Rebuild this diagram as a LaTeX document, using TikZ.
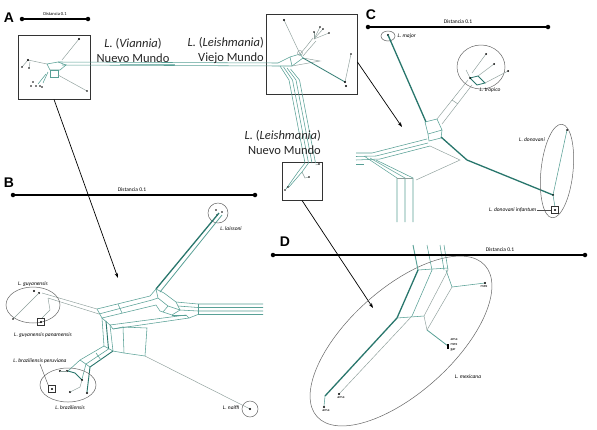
\documentclass[tikz,border=0pt]{standalone}
\usepackage{fontspec}
\setmainfont{Carlito}
\newfontfamily\letterfont{Liberation Sans}
\usetikzlibrary{arrows.meta}
\definecolor{netc}{RGB}{88,160,150}
\definecolor{netd}{RGB}{40,118,108}
\definecolor{netg}{RGB}{140,158,154}
\begin{document}
\begin{tikzpicture}[x=1pt,y=-1pt,
  bar/.style={line width=1.1pt,black},
  bdot/.style={circle,fill=black,inner sep=0pt,minimum size=4.5pt},
  sdot/.style={circle,fill=black,inner sep=0pt,minimum size=2.2pt},
  frame/.style={draw=black!80,line width=0.9pt,inner sep=0pt},
  arr/.style={-{Stealth[length=5pt,width=3.5pt]},line width=0.7pt},
  net/.style={draw=netc,line width=0.55pt},
  thk/.style={draw=netd,line width=1.3pt},
  gry/.style={draw=netg,line width=0.45pt},
  oval/.style={draw=black!60,line width=0.5pt},
  lab/.style={font=\fontsize{5.5}{6}\selectfont\itshape,inner sep=0.5pt},
  tiny/.style={font=\fontsize{4}{4.5}\selectfont,inner sep=0.3pt},
  dist/.style={font=\fontsize{5.5}{6}\selectfont,inner sep=0.5pt},
  letter/.style={font=\letterfont\bfseries\fontsize{14}{14}\selectfont,inner sep=0pt},
  big/.style={font=\fontsize{12.5}{15}\selectfont,inner sep=0pt,text=black!85}
]
\useasboundingbox (0,0) rectangle (597,429);
\fill[white] (0,0) rectangle (597,429);

% ================= PANEL A =================
\node[letter] (lA) at (9,18) {A};
\node[bdot] (sa1) at (22,19) {};
\node[bdot] (sa2) at (88,19) {};
\draw[bar] (sa1) -- (sa2);
\node[dist,font=\fontsize{4.5}{5}\selectfont] (da) at (55,14) {Distancia 0.1};

\node[frame,minimum width=72pt,minimum height=64pt] (boxA) at (54,67) {};
\node[frame,minimum width=91pt,minimum height=80pt] (boxW) at (311.5,54) {};
\node[frame,minimum width=40pt,minimum height=38pt] (boxD) at (302,181) {};

% mini network in box A
\draw[gry] (79,39)--(62,60);
\node[sdot] at (79,39) {};
\draw[gry] (28,60)--(47,64);
\draw[gry] (28,60)--(22,67);
\draw[gry] (30,62)--(29,68);
\node[sdot] at (28,60) {};
\node[sdot,minimum size=1.6pt] at (22,67) {};
\node[sdot,minimum size=1.6pt] at (29,68) {};
\draw[net] (47,64)--(58,62)--(66,65)--(60,70)--(50,70)--cycle;
\draw[net] (50,70)--(58,70)--(58,77)--(50,77)--cycle;
\draw[net] (48,72)--(43,83);
\draw[net] (46,74)--(38,84);
\foreach \p in {(33,82),(36,86),(40,86),(42,87),(31,86)} \node[sdot,minimum size=1.6pt] at \p {};
\draw[gry] (58,75)--(87,91);
\node[sdot,minimum size=1.6pt] at (87,91) {};

% long band to Old World
\draw[net] (58,62)--(278,63);
\draw[net] (62,65)--(278,66);
\draw[netc!70,line width=1.2pt] (120,64.3)--(175,64.3);

% Old world network
\draw[net] (278,63)--(290,57)--(300,54);
\draw[net] (278,66)--(292,66)--(303,58);
\draw[net] (290,57)--(292,66);
\draw[net] (300,54)--(303,58);
\draw[gry] (292,66)--(320,61)--(303,58);
\draw[gry] (300,54)--(284,20);
\node[sdot] at (284,20) {};
\draw[gry] (300,53) circle (2.5pt);
\draw[gry] (300,54)--(306,47)--(313,38);
\draw[gry] (303,56)--(309,49)--(316,41);
\foreach \p in {(314,32),(320,27),(323,29),(329,33)} {\draw[gry] (314,39)--\p; \node[sdot,minimum size=1.8pt] at \p {};}
\draw[netd,line width=0.8pt] (303,58)--(345,82);
\draw[gry] (345,82)--(351,54);
\node[sdot] at (345,82) {};
\node[sdot] at (346,86) {};
\node[sdot,minimum size=1.8pt] at (351,54) {};

% band down to box D
\foreach \i in {0,1,2,3} {
  \draw[net] (280+3.5*\i,66+\i)--(289+3.5*\i,80)--(305+3.5*\i,163);
}

% box D interior
\draw[net] (305,163)--(298,172)--(286,189);
\draw[net] (308.5,163)--(302,172)--(289,187);
\draw[gry] (302,172)--(305,178)--(309,177);
\draw[gry] (315.5,165)--(319,164);
\node[sdot,minimum size=1.8pt] at (309,177) {};
\node[sdot,minimum size=1.8pt] at (319,164) {};
\node[sdot,minimum size=1.8pt] at (285,190) {};
\node[sdot,minimum size=1.8pt] at (288,187) {};

% texts
\node[big,align=center] (tv) at (133,50) {\textit{L.} (\textit{Viannia})\\Nuevo Mundo};
\node[big,align=right,anchor=east] (tl) at (264,50) {\textit{L.} (\textit{Leishmania})\\Viejo Mundo};
\node[big,align=right,anchor=east] (tn) at (321,142) {\textit{L.} (\textit{Leishmania})\\Nuevo Mundo};

% arrows
\coordinate (tipB) at (118,278);
\coordinate (tipC) at (402,127);
\coordinate (tipD) at (373,308);
\draw[arr] (boxA.south) -- (tipB);
\draw[arr] ([yshift=-8pt]boxW.east) -- (tipC);
\draw[arr] (boxD.south) -- (tipD);

% ================= PANEL B =================
\node[letter] (lB) at (9,183) {B};
\node[bdot] (sb1) at (13,195) {};
\node[bdot] (sb2) at (255,195) {};
\draw[bar] (sb1) -- (sb2);
\node[dist] (db) at (132,190) {Distancia 0.1};

\draw[oval] (218,213) circle (10pt);
\node[lab] (lai) at (231,229) {L. laissoni};
\foreach \p in {(216,210),(222,212),(217,215)} \node[sdot,minimum size=1.8pt] at \p {};
\draw[thk] (219,213) -- (156,289);
\draw[net,line width=0.8pt] (222,215) -- (160,292);

% junction
\draw[net] (150,296)--(156,289)--(164,293)--(176,302)--(180,310)--(172,315)--(160,311)--(156,305);
\draw[net] (156,289)--(158,298)--(168,306)--(180,310);
\draw[net] (158,298)--(152,300);
\draw[net] (168,306)--(163,312);
% right lines
\draw[net] (176,302)--(198,304)--(263,304);
\draw[net] (178,306)--(198,307.5)--(263,307.5);
\draw[net] (180,310)--(198,311)--(263,311);
\draw[net] (189,318)--(198,314.5)--(263,314.5);
\draw[net] (198,304)--(198,314.5);
% upper band
\draw[net] (97,309)--(150,296);
\draw[net] (99,314)--(152,300);
\draw[net] (102,318)--(156,305);
\draw[net] (97,309)--(102,318);
\draw[net] (118,304)--(122,313);
% lower band
\draw[net] (110,325)--(186,315);
\draw[net] (113,329)--(189,318);
\draw[net] (110,325)--(113,329);
\draw[net] (172,315)--(186,315);
\draw[net] (186,315)--(189,318);
% left branch
\draw[gry] (42,293)--(97,309);
\draw[gry] (48,298)--(99,314);
% verticals
\draw[net] (102,318)--(104,346);
\draw[thk,line width=0.9pt] (106,321)--(108.5,349);
\draw[net] (110,325)--(113,351);
\draw[net] (102,318)--(110,325);
\draw[net] (104,346)--(113,351);
% square
\draw[net] (123,327)--(147,328)--(145,356)--(124,353)--cycle;
\draw[net] (113,329)--(123,327);
\draw[net] (113,351)--(124,353);
\draw[gry] (145,356)--(250,409);
% lower-left band
\draw[net] (104,346)--(80,360)--(68,371);
\draw[net] (108.5,349)--(86,364)--(82,379);
\draw[thk,line width=0.9pt] (113,351)--(90,367)--(87,392);
\draw[net] (80,360)--(90,367);
\draw[net] (96,353)--(101,360);
\draw[thk,line width=0.9pt] (68,371)--(75,373)--(82,380);

% naiffi
\draw[oval] (250,409) circle (8pt);
\node[sdot] at (250,409) {};
\node[lab,anchor=east] (nai) at (240,408) {L. naiffi};

% guyanensis
\draw[oval] (33,305) ellipse [x radius=27pt,y radius=18pt];
\node[lab] (guy) at (33,284) {L. guyanensis};
\node[sdot] at (34,291) {};
\node[sdot] at (39,293) {};
\draw[gry] (39,293)--(13,319);
\node[sdot,minimum size=1.8pt] at (13,319) {};
\draw[gry] (48,298)--(50,310)--(42,318);
\node[draw=black!80,line width=0.5pt,minimum size=7pt,inner sep=0pt] (sqG) at (41,322) {};
\node[sdot] at (41,322) {};
\node[lab] (guyp) at (43,335) {L. guyanensis panamensis};

% braziliensis
\draw[oval] (68,385) ellipse [x radius=28pt,y radius=17pt];
\node[lab] (bra) at (70,408) {L. braziliensis};
\node[lab] (brap) at (40,361) {L. braziliensis peruviana};
\foreach \p in {(60,371),(67,371),(82,380),(70,392),(87,393)} \node[sdot] at \p {};
\draw[gry] (60,371)--(67,371);
\draw[gry] (70,392)--(80,387)--(82,380);
\node[draw=black!80,line width=0.5pt,minimum size=7pt,inner sep=0pt] (sqB) at (52,389) {};
\node[sdot] at (52,389) {};
\draw[black!70,line width=0.4pt] (brap.south) -- (sqB.north west);

% ================= PANEL C =================
\node[letter] (lC) at (371,15) {C};
\node[bdot] (sc1) at (368,27) {};
\node[bdot] (sc2) at (548,27) {};
\draw[bar] (sc1) -- (sc2);
\node[dist] (dc) at (458,22) {Distancia 0.1};

\draw[oval] (388,36) ellipse [x radius=7pt,y radius=5pt];
\node[sdot] at (388,35) {};
\node[lab,anchor=west] (maj) at (397,36) {L. major};
\draw[thk] (388,35) -- (426,122);

\draw[net] (425,122)--(437,119)--(442,130)--(428,134)--cycle;
\draw[net] (428,134)--(429,141)--(441,138)--(442,130);
\draw[gry] (437,119)--(468,80);
\draw[gry] (442,124)--(472,85);
\draw[gry] (452,100)--(458,104);

\draw[oval] (481,67) ellipse [x radius=24pt,y radius=22pt];
\node[lab] (tro) at (490,90) {L. tropico};
\draw[netd,line width=0.8pt] (470,78)--(478,76)--(485,83)--(477,85)--cycle;
\draw[gry] (472,73)--(486,54);
\draw[gry] (478,76)--(494,64);
\draw[gry] (485,83)--(508,71);
\draw[gry] (470,78)--(466,70);
\foreach \p in {(486,54),(494,64),(508,71),(470,78)} \node[sdot,minimum size=2pt] at \p {};

\draw[thk] (441,137)--(450,145)--(467,160)--(553,195);
\draw[oval,rotate around={-6:(557,171)}] (557,171) ellipse [x radius=16pt,y radius=47pt];
\node[lab] (don) at (532,140) {L. donovani};
\draw[net] (553,195)--(567,130);
\node[sdot,minimum size=2pt] at (567,130) {};
\node[sdot,minimum size=2pt] at (553,195) {};
\draw[net] (553,195)--(555,207);
\node[draw=black!80,line width=0.5pt,minimum size=7pt,inner sep=0pt] (sqD) at (555,210) {};
\node[sdot] at (555,210) {};
\node[lab,anchor=east] (dinf) at (537,210) {L. donovani infantum};
\draw[black!70,line width=0.4pt] (dinf.east) -- (sqD.west);

% left bands C
\draw[net] (427,139)--(372,153)--(356,153);
\draw[net] (428,143)--(376,156)--(356,156.5);
\draw[net] (430,146)--(380,159)--(356,160);
\draw[net] (356,164)--(364,164);
\draw[net] (364,156)--(397,178)--(397,222);
\draw[net] (370,158)--(405,178)--(405,222);
\draw[net] (376,160)--(413,178)--(413,222);
\draw[gry] (430,146)--(460,160)--(416,180);
\draw[gry] (397,178)--(413,178);

% ================= PANEL D =================
\node[letter] (lD) at (285,242) {D};
\node[bdot] (sd1) at (273,255) {};
\node[bdot] (sd2) at (585,255) {};
\node[dist] (dd) at (500,250) {Distancia 0.1};

\draw[oval,rotate around={42:(401,341)}] (401,341) ellipse [x radius=113pt,y radius=52pt];
\node[lab] (mexl) at (468,377) {L. mexicana};

\draw[net,line width=0.9pt] (413,245)--(418,270);
\draw[net] (427,245)--(432,270);
\draw[net] (440,245)--(444,270);
\draw[net] (444,245)--(448,270);
\draw[bar] (sd1) -- (sd2);
\draw[net] (418,270)--(448,268);
\draw[thk] (418,270)--(397,318)--(325,396);
\draw[net] (432,270)--(412,316);
\draw[gry] (412,316)--(339,394);
\draw[net] (397,318)--(424,316);
\draw[net] (446,270)--(452,287)--(485,283);
\draw[gry] (448,270)--(424,316)--(427,330);
\draw[net,line width=0.8pt] (427,330)--(448,346);
\draw[gry] (452,287)--(427,330);
\draw[net] (325,396)--(324,406);
\node[sdot,minimum size=2.2pt] at (485,283) {};
\node[tiny,anchor=north] (mex1) at (484,285) {mex};
\node[fill=black,inner sep=0pt,minimum width=2.5pt,minimum height=5pt] (grp) at (448,346) {};
\node[tiny,anchor=west] (ama1) at (450,340) {ama};
\node[tiny,anchor=west] (mex2) at (450,345) {mex};
\node[tiny,anchor=west] (gar) at (450,350) {gar};
\node[sdot,minimum size=2.2pt] at (324,407) {};
\node[tiny,anchor=north] (bma) at (326,409) {ama};
\node[sdot,minimum size=2.2pt] at (339,394) {};
\node[tiny,anchor=north] (aha) at (341,396) {ama};

\end{tikzpicture}
\end{document}
